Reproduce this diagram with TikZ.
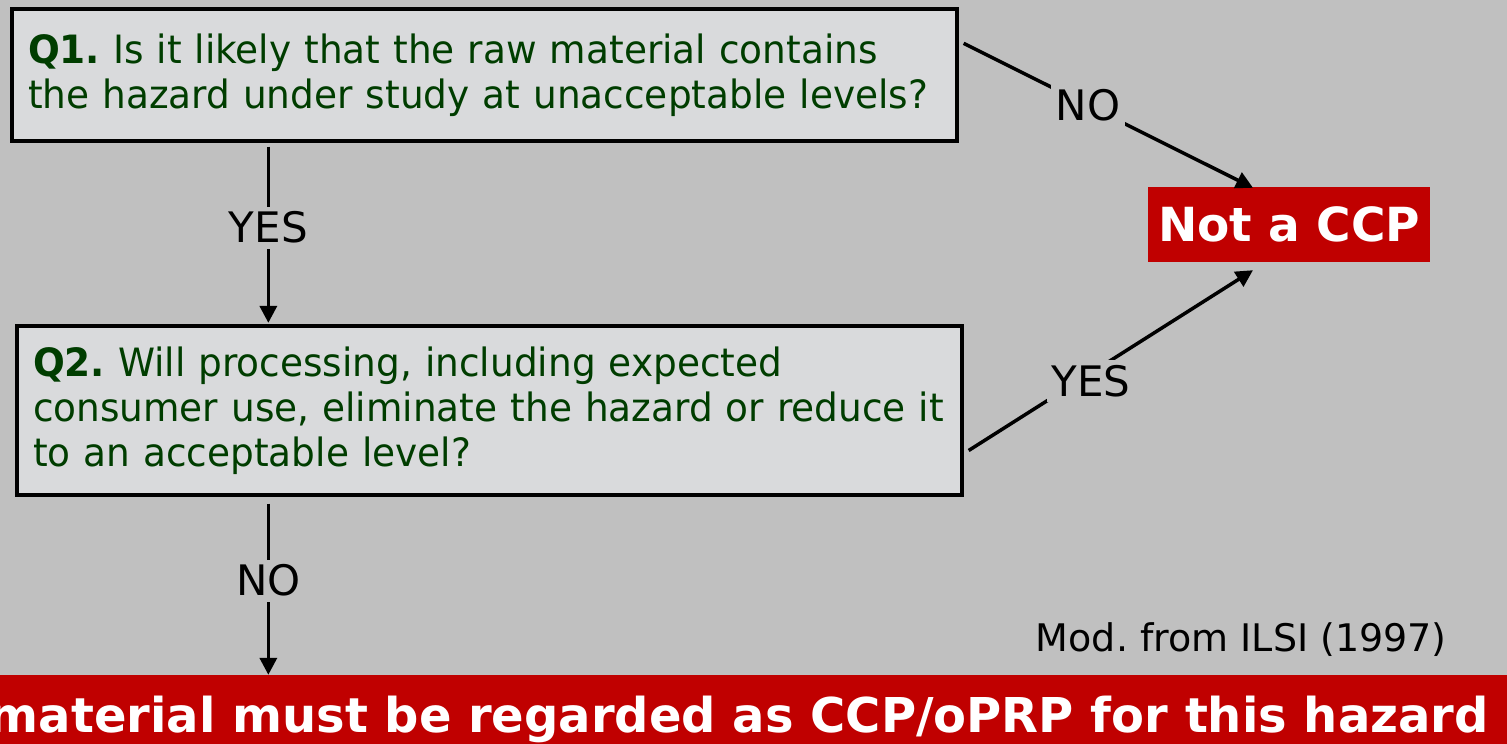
\documentclass[tikz,border=0pt]{standalone}
\usepackage{fontspec}
\setmainfont{DejaVu Sans}
\newfontfamily\qfont[FakeStretch=0.96]{DejaVu Sans}
\usetikzlibrary{arrows.meta,calc}
\frenchspacing
\definecolor{bg}{HTML}{C0C0C0}
\definecolor{boxfill}{HTML}{D9DADC}
\definecolor{qgreen}{HTML}{003D00}
\definecolor{ccpred}{HTML}{C00000}
\tikzset{
  qbox/.style={draw=black, line width=3.3pt, fill=boxfill, text=qgreen,
    align=left, inner xsep=16pt, inner ysep=0pt, text width=913pt,
    minimum width=945pt, font=\qfont\fontsize{39}{45}\selectfont},
  flow/.style={draw=black, line width=3.5pt, -{Triangle[length=17pt,width=17pt]}},
  lbl/.style={fill=bg, inner sep=5pt, text=black, font=\fontsize{42}{48}\selectfont},
  verdict/.style={fill=ccpred, text=white, inner sep=0pt,
    font=\fontsize{47}{52}\selectfont\bfseries},
  banner/.style={fill=ccpred, inner sep=0pt, minimum width=1507pt, minimum height=69pt},
  bannertext/.style={text=white, inner sep=0pt, font=\fontsize{48}{55}\selectfont\bfseries},
  source/.style={text=black, inner sep=0pt, font=\fontsize{38}{44}\selectfont}
}
\begin{document}
\begin{tikzpicture}[x=1pt, y=-1pt]
  \useasboundingbox (0,0) rectangle (1507,744);
  \fill[bg] (0,0) rectangle (1507,744);

  % question boxes
  \node[qbox, minimum height=132pt] (q1) at (484.5,75)
    {\textbf{Q1.} Is it likely that the raw material contains\\
     the hazard under study at unacceptable levels?};
  \node[qbox, minimum height=169pt] (q2) at (489.5,410.5)
    {\textbf{Q2.} Will processing, including expected\\
     consumer use, eliminate the hazard or reduce it\\
     to an acceptable level?};

  % outcomes
  \node[verdict, minimum width=282pt, minimum height=75pt] (ncp) at (1289,224.5) {Not a CCP};
  \node[banner] (sink) at (753.5,709.5) {};
  \node[bannertext, anchor=base east] (sinktext) at (1489,732)
    {material must be regarded as CCP/oPRP for this hazard};
  \node[source, anchor=base east] (src) at (1447,651) {Mod. from ILSI (1997)};

  % connector end points on the box borders
  \coordinate (q1out) at ($(q1.north east)+(5,36)$);
  \coordinate (q2out) at ($(q2.east)+(5,40)$);
  \coordinate (q1down) at ($(q1.south west)+(258,4)$);
  \coordinate (q2down) at ($(q2.south west)+(253,7)$);

  % connectors
  \draw[flow] (q1out) -- node[lbl, pos=0.43] {NO} ($(ncp.north)+(-36,1)$);
  \draw[flow] (q2out) -- node[lbl, pos=0.43, yshift=-8pt] {YES} ($(ncp.south)+(-36,8)$);
  \draw[flow] (q1down) -- node[lbl, pos=0.46] {YES} ($(q1down |- q2.north)+(0,-1.5)$);
  \draw[flow] (q2down) -- node[lbl, pos=0.45] {NO} (q2down |- sink.north);
\end{tikzpicture}
\end{document}
